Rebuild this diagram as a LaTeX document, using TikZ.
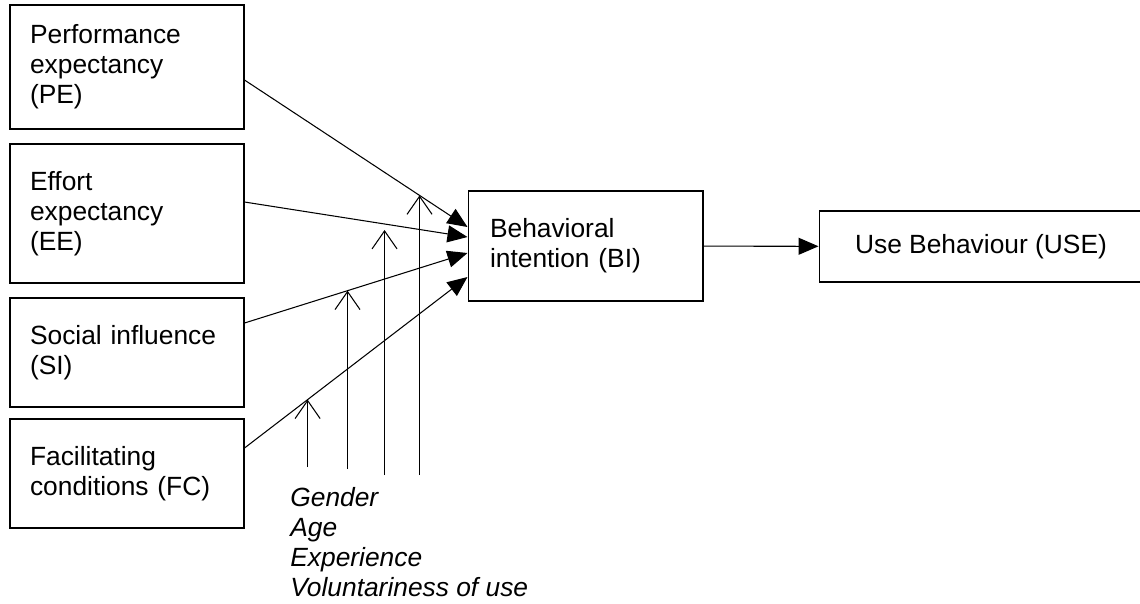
\documentclass[tikz,border=0pt]{standalone}
\usepackage{fontspec}
\setmainfont{Liberation Sans}
\usetikzlibrary{arrows.meta,calc}
\tikzset{
  construct/.style={draw, line width=0.6pt, minimum width=4.68cm, text width=3.88cm,
    inner xsep=0.4cm, inner ysep=0pt, align=left},
  link/.style={line width=0.6pt, -{Triangle[length=0.4cm, width=0.34cm]}},
  moderate/.style={line width=0.6pt, -{Straight Barb[length=0.36cm, width=0.5cm]}}
}
\begin{document}
\begin{tikzpicture}[x=0.02cm, y=-0.02cm, font=\fontsize{15}{17}\selectfont]
  \clip (0,0) rectangle (1140,603);
  % constructs
  \node[construct, minimum height=2.48cm] (pe) at (127,67) {Performance\\expectancy\\(PE)};
  \node[construct, minimum height=2.78cm] (ee) at (127,213.5) {Effort\\expectancy\\(EE)};
  \node[construct, minimum height=2.18cm] (si) at (127,352.5) {Social influence\\(SI)};
  \node[construct, minimum height=2.18cm] (fc) at (127,473.5) {Facilitating\\conditions (FC)};
  \node[construct, minimum width=4.7cm, text width=3.82cm, inner xsep=0.44cm,
    minimum height=2.2cm] (bi) at (585.5,246) {Behavioral\\intention (BI)};
  \node[draw, line width=0.6pt, minimum width=6.48cm, minimum height=1.42cm] (use) at (981,246.5) {Use Behaviour (USE)};
  % ends of the paths
  \coordinate (pe-out) at ([yshift=-0.26cm]pe.east);
  \coordinate (ee-out) at ([yshift=0.23cm]ee.east);
  \coordinate (si-out) at ([yshift=0.59cm]si.east);
  \coordinate (fc-out) at ([yshift=0.51cm]fc.east);
  \coordinate (bi-in1) at ([yshift=0.38cm]bi.west);
  \coordinate (bi-in2) at ([yshift=0.18cm]bi.west);
  \coordinate (bi-in3) at ([yshift=-0.14cm]bi.west);
  \coordinate (bi-in4) at ([yshift=-0.62cm]bi.west);
  \draw[link] (pe-out) -- (bi-in1);
  \draw[link] (ee-out) -- (bi-in2);
  \draw[link] (si-out) -- (bi-in3);
  \draw[link] (fc-out) -- (bi-in4);
  \draw[link] (bi) -- (use);
  % moderators
  \coordinate (mod1) at ($(fc-out)!0.283!(bi-in4)$);
  \coordinate (mod2) at ($(si-out)!0.462!(bi-in3)$);
  \coordinate (mod3) at ([yshift=-0.12cm]$(ee-out)!0.628!(bi-in2)$);
  \coordinate (mod4) at ($(pe-out)!0.785!(bi-in1)$);
  \draw[moderate] (mod1 |- 0,467) -- (mod1);
  \draw[moderate] (mod2 |- 0,469) -- (mod2);
  \draw[moderate] (mod3 |- 0,475) -- (mod3);
  \draw[moderate] (mod4 |- 0,475) -- (mod4);
  \node[font=\fontsize{15}{17}\selectfont\itshape, align=left, anchor=north west, inner sep=0pt]
    (factors) at (290,487) {Gender\\Age\\Experience\\Voluntariness of use};
\end{tikzpicture}
\end{document}
